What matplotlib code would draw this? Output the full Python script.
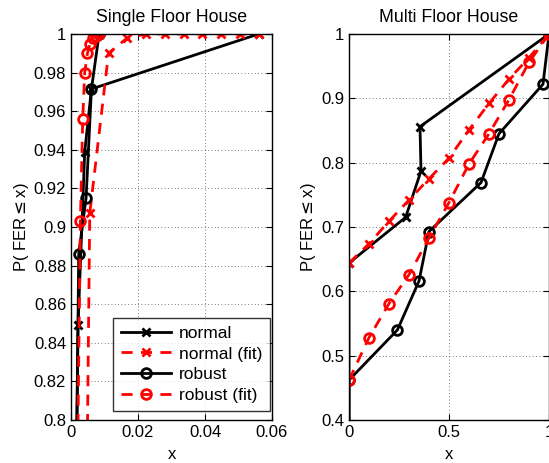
import matplotlib.pyplot as plt
import numpy as np

plt.rcParams['font.family'] = ['Liberation Sans', 'DejaVu Sans']
FS = 12

# ---- Single floor house (left) ----
sf_normal_x = [0.0015, 0.0021, 0.0041, 0.0061, 0.056]
sf_normal_y = [0.76, 0.849, 0.939, 0.9715, 1.0]
sf_normal_fit_x = [0.0, 0.0056, 0.0112, 0.0168, 0.0224, 0.028, 0.0336, 0.0392, 0.0448, 0.0504, 0.056]
sf_normal_fit_y = [0.0, 0.907, 0.990, 0.998, 1.0, 1.0, 1.0, 1.0, 1.0, 1.0, 1.0]
sf_robust_x = [0.0014, 0.0023, 0.0045, 0.0061, 0.0084]
sf_robust_y = [0.74, 0.886, 0.915, 0.9715, 1.0]
sf_robust_fit_x = [0.0, 0.0009, 0.0018, 0.0028, 0.0035, 0.0041, 0.0049, 0.0057, 0.0066, 0.0075, 0.0084]
sf_robust_fit_y = [0.0, 0.5, 0.756, 0.903, 0.956, 0.980, 0.990, 0.995, 0.998, 0.999, 1.0]

# ---- Multi floor house (right) ----
mf_normal_x = [0.0, 0.0, 0.283, 0.36, 0.355, 1.0]
mf_normal_y = [0.0, 0.644, 0.715, 0.787, 0.856, 1.0]
mf_normal_fit_x = [0.0, 0.1, 0.2, 0.3, 0.4, 0.5, 0.6, 0.7, 0.8, 0.9, 1.0]
mf_normal_fit_y = [0.644, 0.674, 0.709, 0.742, 0.775, 0.807, 0.851, 0.892, 0.930, 0.963, 1.0]
mf_robust_x = [0.0, 0.0, 0.242, 0.35, 0.40, 0.66, 0.75, 0.97, 1.0]
mf_robust_y = [0.0, 0.462, 0.540, 0.616, 0.693, 0.769, 0.845, 0.922, 1.0]
mf_robust_fit_x = [0.0, 0.1, 0.2, 0.3, 0.4, 0.5, 0.6, 0.7, 0.8, 0.9, 1.0]
mf_robust_fit_y = [0.462, 0.528, 0.581, 0.626, 0.683, 0.738, 0.798, 0.845, 0.898, 0.956, 1.0]

fig = plt.figure(figsize=(5.49, 4.63), dpi=100)
ax1 = fig.add_axes([71 / 549, 43 / 463, 201 / 549, 386 / 463])
ax2 = fig.add_axes([349 / 549, 43 / 463, 200 / 549, 386 / 463])

LW = 2.0
MS = 7
MEW = 2.0


def draw(ax, nx, ny, nfx, nfy, rx, ry, rfx, rfy):
    ax.plot(nx, ny, '-', color='black', lw=LW, marker='x', ms=MS - 1, mew=MEW, label='normal')
    ax.plot(nfx, nfy, '--', color='red', lw=LW, marker='x', ms=MS - 1, mew=MEW,
            dashes=(4, 3), label='normal (fit)')
    ax.plot(rx, ry, '-', color='black', lw=LW, marker='o', ms=MS, mew=MEW,
            mfc='none', label='robust')
    ax.plot(rfx, rfy, '--', color='red', lw=LW, marker='o', ms=MS, mew=MEW,
            mfc='none', dashes=(4, 3), label='robust (fit)')
    ax.grid(True, linestyle=(0, (1, 3)), color='black', lw=0.6, alpha=0.7)
    ax.tick_params(direction='in', top=True, right=True, labelsize=FS, length=4)
    for s in ax.spines.values():
        s.set_linewidth(1.0)
    ax.set_xlabel('x', fontsize=FS, labelpad=5)
    ax.set_ylabel('P( FER$\\leq$x)', fontsize=FS, labelpad=2)


draw(ax1, sf_normal_x, sf_normal_y, sf_normal_fit_x, sf_normal_fit_y,
     sf_robust_x, sf_robust_y, sf_robust_fit_x, sf_robust_fit_y)
ax1.set_xlim(0, 0.06)
ax1.set_ylim(0.8, 1.0)
ax1.set_xticks([0, 0.02, 0.04, 0.06])
ax1.set_xticklabels(['0', '0.02', '0.04', '0.06'])
yt1 = np.round(np.arange(0.8, 1.001, 0.02), 2)
ax1.set_yticks(yt1)
ax1.set_yticklabels(['0.8', '0.82', '0.84', '0.86', '0.88', '0.9', '0.92', '0.94', '0.96', '0.98', '1'])
ax1.set_title('Single Floor House', fontsize=12.8, pad=9)
leg = ax1.legend(loc='lower right', bbox_to_anchor=(0.99, 0.023), fontsize=12.5,
                 frameon=True, fancybox=False, edgecolor='black', handlelength=2.9,
                 borderpad=0.45, labelspacing=0.33, handletextpad=0.45, borderaxespad=0)
leg.get_frame().set_linewidth(1.0)

draw(ax2, mf_normal_x, mf_normal_y, mf_normal_fit_x, mf_normal_fit_y,
     mf_robust_x, mf_robust_y, mf_robust_fit_x, mf_robust_fit_y)
ax2.set_xlim(0, 1)
ax2.set_ylim(0.4, 1.0)
ax2.set_xticks([0, 0.5, 1])
ax2.set_xticklabels(['0', '0.5', '1'])
ax2.set_yticks([0.4, 0.5, 0.6, 0.7, 0.8, 0.9, 1.0])
ax2.set_yticklabels(['0.4', '0.5', '0.6', '0.7', '0.8', '0.9', '1'])
ax2.set_title('Multi Floor House', fontsize=12.8, pad=9)

fig.savefig('out.png', dpi=100)
